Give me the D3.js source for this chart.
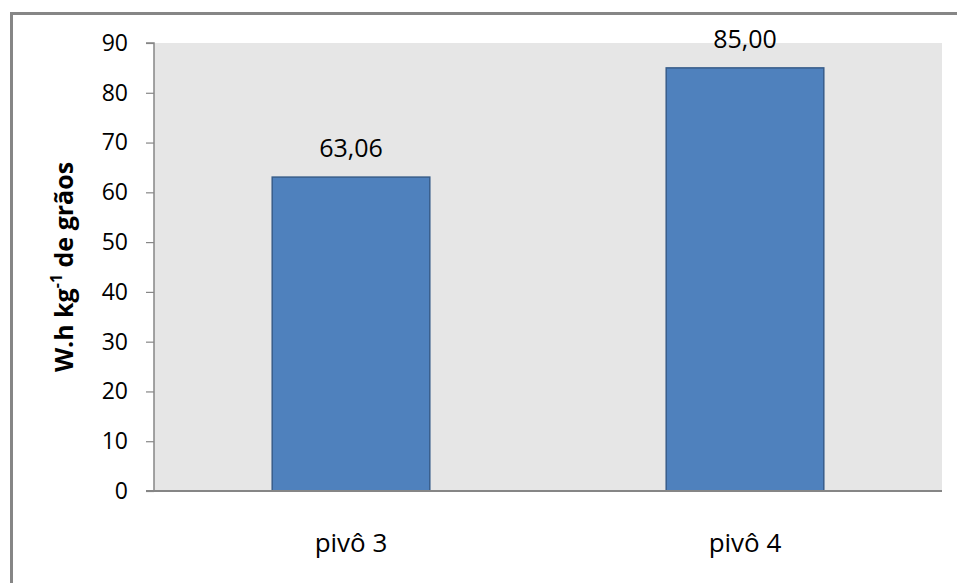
<!DOCTYPE html>
<html>
<head>
<meta charset="utf-8">
<script src="https://cdn.jsdelivr.net/npm/d3@7"></script>
<style>
  html, body { margin: 0; padding: 0; background: #fff; }
  svg { display: block; }
  text { font-family: "Open Sans", "Liberation Sans", sans-serif; fill: #000; }
</style>
</head>
<body>
<svg id="chart" width="957" height="583"></svg>
<script>
// Energy consumption per kg of grain, by centre pivot
const categories = ["pivô 3", "pivô 4"];
const values = [63.06, 85.00];
const valueLabels = ["63,06", "85,00"];
const yTicks = [0, 10, 20, 30, 40, 50, 60, 70, 80, 90];

const svg = d3.select("#chart");
const W = 957, H = 583;
const plot = { left: 154, right: 942, top: 43, bottom: 491 };

// Outer chart frame (left and top edges)
svg.append("path")
  .attr("d", `M11.5,${H} L11.5,13.5 L${W},13.5`)
  .attr("fill", "none")
  .attr("stroke", "#868686")
  .attr("stroke-width", 3);

// Plot area background
svg.append("rect")
  .attr("x", plot.left).attr("y", plot.top)
  .attr("width", plot.right - plot.left).attr("height", plot.bottom - plot.top)
  .attr("fill", "#e6e6e6");

const x = d3.scaleBand()
  .domain(categories)
  .range([plot.left, plot.right])
  .paddingInner(0.6)
  .paddingOuter(0.3);

const y = d3.scaleLinear()
  .domain([0, 90])
  .range([plot.bottom, plot.top]);

// Bars
svg.selectAll("rect.bar")
  .data(values)
  .join("rect")
  .attr("class", "bar")
  .attr("x", (d, i) => x(categories[i]))
  .attr("y", d => y(d))
  .attr("width", x.bandwidth())
  .attr("height", d => y(0) - y(d))
  .attr("fill", "#4f81bd")
  .attr("stroke", "#385d8a")
  .attr("stroke-width", 1.5);

// Value labels
svg.selectAll("text.val")
  .data(values)
  .join("text")
  .attr("class", "val")
  .attr("x", (d, i) => x(categories[i]) + x.bandwidth() / 2)
  .attr("y", d => y(d) - 20)
  .attr("text-anchor", "middle")
  .attr("font-size", 25)
  .text((d, i) => valueLabels[i]);

// Y axis
const yAxis = d3.axisLeft(y).tickValues(yTicks).tickSize(8).tickPadding(18).tickFormat(d3.format("d"));
const gy = svg.append("g")
  .attr("transform", `translate(${plot.left},0)`)
  .call(yAxis);
gy.select(".domain").attr("stroke", "#868686").attr("stroke-width", 1.5).attr("d", `M-8,${plot.top}H0V${plot.bottom}`);
gy.selectAll(".tick line").attr("stroke", "#868686").attr("stroke-width", 1.2);
gy.selectAll(".tick text")
  .attr("font-size", 23)
  .attr("fill", "#000")
  .style("font-family", "'Open Sans', 'Liberation Sans', sans-serif");

// X axis baseline
svg.append("line")
  .attr("x1", plot.left - 8).attr("x2", plot.right)
  .attr("y1", plot.bottom).attr("y2", plot.bottom)
  .attr("stroke", "#868686")
  .attr("stroke-width", 2);

// Category labels
svg.selectAll("text.cat")
  .data(categories)
  .join("text")
  .attr("class", "cat")
  .attr("x", d => x(d) + x.bandwidth() / 2)
  .attr("y", 552)
  .attr("text-anchor", "middle")
  .attr("font-size", 26)
  .text(d => d);

// Y axis title
const title = svg.append("text")
  .attr("transform", `translate(73,267) rotate(-90)`)
  .attr("text-anchor", "middle")
  .attr("font-size", 25)
  .attr("font-weight", "bold");
title.append("tspan").text("W.h kg");
title.append("tspan").attr("baseline-shift", "super").attr("font-size", 16).text("-1");
title.append("tspan").text(" de grãos");
</script>
</body>
</html>
